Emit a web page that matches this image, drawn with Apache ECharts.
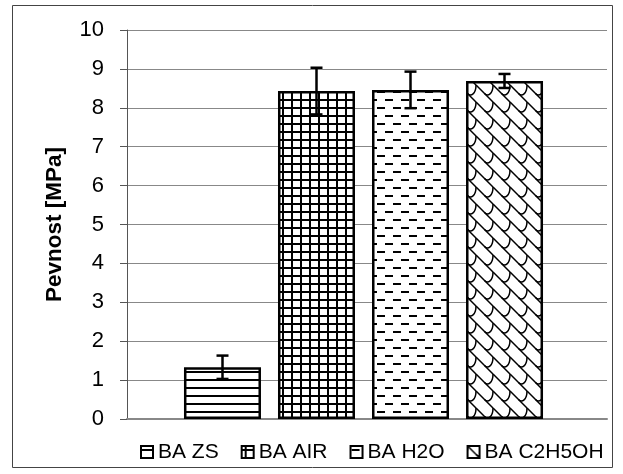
<!DOCTYPE html>
<html><head><meta charset="utf-8">
<script src="https://cdn.jsdelivr.net/npm/echarts@6/dist/echarts.min.js"></script>
<style>html,body{margin:0;padding:0;background:#fff}#c{width:623px;height:474px}</style>
</head><body><div id="c"></div>
<script>
const categories = ['BA ZS', 'BA AIR', 'BA H2O', 'BA C2H5OH'];
const values = [1.33, 8.43, 8.46, 8.69];
const errors = [0.30, 0.60, 0.47, 0.18];
const yMin = 0, yMax = 10, yStep = 1;

const FONT = 'Liberation Sans, Arial, sans-serif';
const BAR_W = 77, GAP_PX = 17;

function tile(w, h, draw) {
  const c = document.createElement('canvas');
  c.width = w; c.height = h;
  const g = c.getContext('2d');
  g.fillStyle = '#fff'; g.fillRect(0, 0, w, h);
  g.fillStyle = '#000'; g.strokeStyle = '#000';
  draw(g, w, h);
  return c;
}
const patterns = [
  tile(8, 8, g => { g.fillRect(0, 3, 8, 2); }),
  tile(9, 8, g => { g.fillRect(0, 3, 9, 2); g.fillRect(3, 0, 2, 8); }),
  tile(16, 16, g => { g.fillRect(1, 3, 8, 2); g.fillRect(9, 11, 8, 2); g.fillRect(0, 11, 1, 2); }),
  tile(17, 17, (g, w, h) => {
    g.lineWidth = 1.5;
    const draw = (ox, oy) => {
      g.beginPath();
      g.moveTo(ox + 0, oy + 0);
      g.lineTo(ox + 17, oy + 17);
      g.stroke();
      g.beginPath();
      g.moveTo(ox + 8.5, oy + 8.5);
      g.bezierCurveTo(ox + 12, oy + 12, ox + 17, oy + 9, ox + 17, oy + 0);
      g.stroke();
    };
    for (const dx of [-17, 0, 17]) for (const dy of [-17, 0, 17]) draw(dx, dy);
  })
];

const barSeries = categories.map((name, i) => ({
  name, type: 'bar',
  xAxisIndex: 1, yAxisIndex: 1,
  data: [values[i]],
  barWidth: BAR_W,
  barGap: (GAP_PX / BAR_W * 100).toFixed(1) + '%',
  itemStyle: { color: { image: patterns[i], repeat: 'repeat' }, borderColor: '#000', borderWidth: 2.5 },
  emphasis: { disabled: true },
  z: 2
}));

const errSeries = {
  type: 'custom',
  name: 'err',
  xAxisIndex: 1, yAxisIndex: 1,
  z: 5,
  silent: true,
  data: values.map((v, i) => [0, v, errors[i], i]),
  renderItem: (params, api) => {
    const v = api.value(1), e = api.value(2), idx = api.value(3);
    const c = api.coord([0, v]);
    const x = c[0] + (idx - (categories.length - 1) / 2) * (BAR_W + GAP_PX);
    const yHi = api.coord([0, v + e])[1];
    const yLo = api.coord([0, v - e])[1];
    const st = { stroke: '#000', lineWidth: 2.5 };
    const cap = 6;
    return { type: 'group', children: [
      { type: 'line', shape: { x1: x, y1: yHi, x2: x, y2: yLo }, style: st },
      { type: 'line', shape: { x1: x - cap, y1: yHi, x2: x + cap, y2: yHi }, style: st },
      { type: 'line', shape: { x1: x - cap, y1: yLo, x2: x + cap, y2: yLo }, style: st }
    ]};
  }
};

const chart = echarts.init(document.getElementById('c'), null, { renderer: 'canvas' });
chart.setOption({
  animation: false,
  backgroundColor: '#fff',
  textStyle: { fontFamily: FONT },
  grid: [
    { left: 127, right: 16, top: 30, bottom: 55 },
    { left: 127, right: 23, top: 30, bottom: 55 }
  ],
  legend: {
    data: categories,
    left: 135, top: 436,
    itemWidth: 12, itemHeight: 12, itemGap: 22,
    icon: 'rect',
    itemStyle: { borderColor: '#000', borderWidth: 2 },
    textStyle: { fontSize: 21, color: '#000', fontFamily: FONT, lineHeight: 22 },
    selectedMode: false
  },
  xAxis: [{
    type: 'category', data: [''], gridIndex: 0,
    axisLine: { lineStyle: { color: '#888', width: 2 } },
    axisTick: { show: false }, axisLabel: { show: false }
  }, {
    type: 'category', data: [''], gridIndex: 1, show: false
  }],
  yAxis: [{
    type: 'value', min: yMin, max: yMax, interval: yStep, gridIndex: 0,
    name: 'Pevnost [MPa]', nameLocation: 'middle', nameGap: 61,
    nameTextStyle: { fontSize: 22.5, fontWeight: 'bold', color: '#000', fontFamily: FONT },
    axisLine: { show: true, lineStyle: { color: '#555', width: 1 } },
    axisTick: { show: true, length: 7, lineStyle: { color: '#555' } },
    axisLabel: { fontSize: 22, color: '#000', margin: 23, fontFamily: FONT },
    splitLine: { lineStyle: { color: '#888', width: 1 } }
  }, {
    type: 'value', min: yMin, max: yMax, interval: yStep, gridIndex: 1, show: false,
    splitLine: { show: false }
  }],
  graphic: [{
    type: 'rect', silent: true, z: 100,
    shape: { x: 12.5, y: 5.5, width: 600, height: 462 },
    style: { fill: 'none', stroke: '#444', lineWidth: 1 }
  }],
  series: [...barSeries, errSeries]
});
</script></body></html>
